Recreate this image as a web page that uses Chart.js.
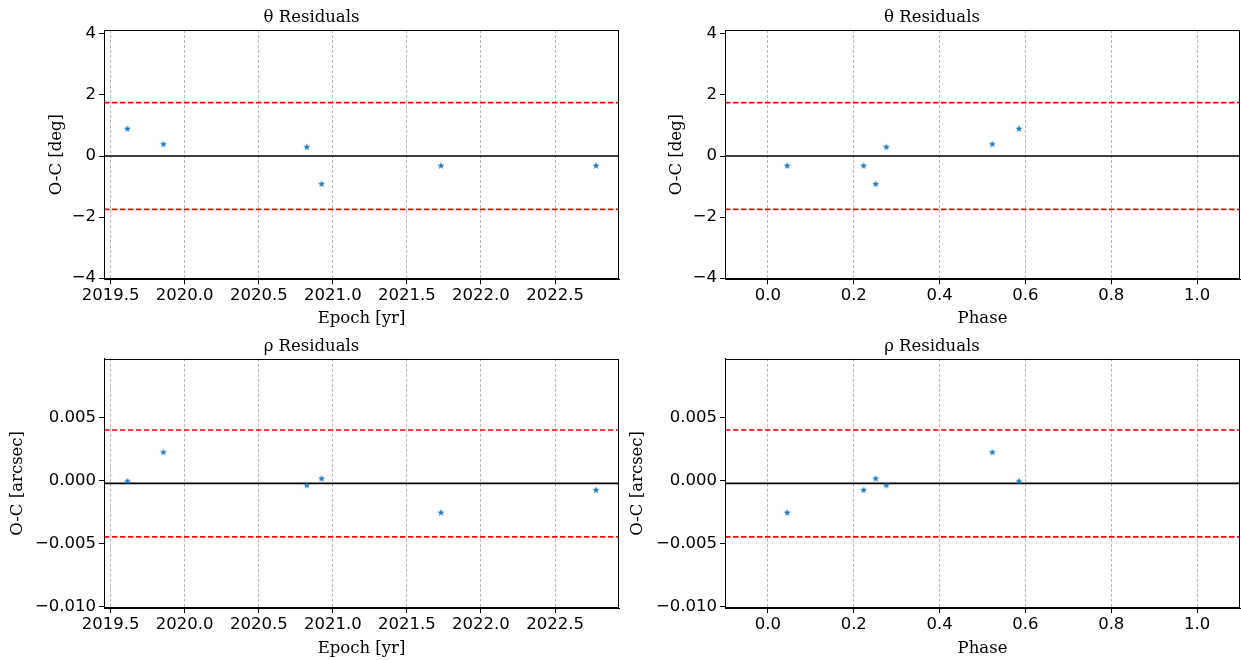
<!DOCTYPE html>
<html>
<head>
<meta charset="utf-8">
<script src="https://cdn.jsdelivr.net/npm/chart.js@4"></script>
<style>
  html, body { margin: 0; background: #fff; overflow: hidden; }
  .panel { position: absolute; }
  .panel canvas { display: block; }
</style>
</head>
<body>
<div class="panel" style="left:0;top:0"><canvas id="thetaEpoch" width="624" height="330"></canvas></div>
<div class="panel" style="left:620px;top:0"><canvas id="thetaPhase" width="625" height="330"></canvas></div>
<div class="panel" style="left:0;top:330px"><canvas id="rhoEpoch" width="624" height="330"></canvas></div>
<div class="panel" style="left:620px;top:330px"><canvas id="rhoPhase" width="625" height="330"></canvas></div>
<script>
// observations: epoch, orbital phase and O-C residuals
const epochs = [2019.613, 2019.856, 2020.824, 2020.924, 2021.730, 2022.777];
const phases = [0.585, 0.523, 0.276, 0.251, 0.045, 0.223];
const thetaResiduals = [0.89, 0.385, 0.29, -0.92, -0.32, -0.32];
const rhoResiduals = [-0.00005, 0.00225, -0.00037, 0.00016, -0.00254, -0.00075];

// mean and 3-sigma band
const thetaMean = 0.0;
const thetaBand = [-1.75, 1.75];
const rhoMean = -0.00021;
const rhoBand = [-0.00446, 0.00402];

// axis limits and ticks
const epochRange = [2019.455, 2022.932];
const phaseRange = [-0.1, 1.1];
const thetaRange = [-4.04, 4.13];
const rhoRange = [-0.0101, 0.00967];
const epochTicks = [2019.5, 2020.0, 2020.5, 2021.0, 2021.5, 2022.0, 2022.5];
const phaseTicks = [0.0, 0.2, 0.4, 0.6, 0.8, 1.0];
const thetaTicks = [-4, -2, 0, 2, 4];
const rhoTicks = [-0.010, -0.005, 0.000, 0.005];

const SANS = "'DejaVu Sans', sans-serif";
const SERIF = "'DejaVu Serif', serif";
const FS = 16.5;
Chart.defaults.font.family = SANS;
Chart.defaults.font.size = FS;
Chart.defaults.color = '#000';

// filled five-point star used as the marker
function starImage(color, r) {
  const size = Math.ceil(r * 2) + 2;
  const c = document.createElement('canvas');
  c.width = c.height = size;
  const g = c.getContext('2d');
  g.translate(size / 2, size / 2);
  g.beginPath();
  for (let i = 0; i < 10; i++) {
    const rad = i % 2 ? r * 0.4 : r;
    const a = -Math.PI / 2 + i * Math.PI / 5;
    g.lineTo(rad * Math.cos(a), rad * Math.sin(a));
  }
  g.closePath();
  g.fillStyle = color;
  g.fill();
  return c;
}
const star = starImage('#1f77b4', 3.8);

function fmt(v, digits) {
  return v.toFixed(digits).replace('-', '\u2212');
}

// box around the plot area
const frame = {
  id: 'frame',
  afterDraw(chart) {
    const { ctx, chartArea: a } = chart;
    const l = Math.round(a.left) + 0.5, t = Math.round(a.top) + 0.5;
    const r = Math.round(a.right) - 0.5, b = Math.round(a.bottom) - 0.5;
    ctx.save();
    ctx.strokeStyle = '#000';
    ctx.lineWidth = 1;
    ctx.strokeRect(l, t, r - l, b - t);
    ctx.restore();
  }
};

function hline(xr, y, color, dash) {
  return {
    data: [{ x: xr[0], y: y }, { x: xr[1], y: y }],
    showLine: true,
    borderColor: color,
    borderWidth: 1.6,
    borderDash: dash,
    pointRadius: 0,
    order: 1
  };
}

function residualPanel(id, cfg) {
  new Chart(document.getElementById(id), {
    type: 'scatter',
    data: {
      datasets: [
        {
          data: cfg.x.map((v, i) => ({ x: v, y: cfg.y[i] })),
          pointStyle: star,
          pointRadius: 4,
          order: 0
        },
        hline(cfg.xRange, cfg.mean, '#000', []),
        hline(cfg.xRange, cfg.band[1], '#ff0000', [5.5, 2.5]),
        hline(cfg.xRange, cfg.band[0], '#ff0000', [5.5, 2.5])
      ]
    },
    options: {
      responsive: false,
      animation: false,
      devicePixelRatio: 1,
      layout: { padding: { left: 0, right: 1, top: 0, bottom: 0 } },
      plugins: {
        legend: { display: false },
        tooltip: { enabled: false },
        title: {
          display: true,
          text: cfg.title,
          color: '#000',
          font: { family: SERIF, size: FS, weight: 'normal' },
          padding: { top: cfg.titleTop, bottom: cfg.titleBottom }
        }
      },
      scales: {
        x: {
          type: 'linear',
          min: cfg.xRange[0],
          max: cfg.xRange[1],
          afterBuildTicks: s => { s.ticks = cfg.xTicks.map(v => ({ value: v })); },
          afterFit: s => { s.height = cfg.xAxisHeight; },
          ticks: {
            callback: v => fmt(v, 1),
            color: '#000',
            font: { family: SANS, size: FS },
            padding: 2,
            maxRotation: 0,
            autoSkip: false
          },
          grid: { color: '#b8b8b8', lineWidth: 1, tickColor: '#000', tickLength: 5, tickWidth: 1 },
          border: { dash: [3, 2], color: '#000', width: 1 },
          title: {
            display: true,
            text: cfg.xLabel,
            color: '#000',
            font: { family: SERIF, size: FS },
            padding: { top: 0, bottom: cfg.xTitleBottom }
          }
        },
        y: {
          type: 'linear',
          min: cfg.yRange[0],
          max: cfg.yRange[1],
          afterBuildTicks: s => { s.ticks = cfg.yTicks.map(v => ({ value: v })); },
          afterFit: s => { s.width = cfg.yAxisWidth; },
          ticks: {
            callback: v => fmt(v, cfg.yDigits),
            color: '#000',
            font: { family: SANS, size: FS },
            padding: 3,
            autoSkip: false
          },
          grid: { drawOnChartArea: false, tickColor: '#000', tickLength: 5, tickWidth: 1 },
          border: { color: '#000', width: 1 },
          title: {
            display: true,
            text: cfg.yLabel,
            color: '#000',
            font: { family: SERIF, size: FS },
            padding: { top: cfg.yTitlePad, bottom: 0 }
          }
        }
      }
    },
    plugins: [frame]
  });
}

const thetaCommon = {
  title: '\u03B8 Residuals', y: thetaResiduals, mean: thetaMean, band: thetaBand,
  yRange: thetaRange, yTicks: thetaTicks, yDigits: 0, yLabel: 'O-C [deg]', yTitlePad: 47,
  titleTop: 8, titleBottom: 2.2, xAxisHeight: 50.7, xTitleBottom: 1.5
};
const rhoCommon = {
  title: '\u03C1 Residuals', y: rhoResiduals, mean: rhoMean, band: rhoBand,
  yRange: rhoRange, yTicks: rhoTicks, yDigits: 3, yLabel: 'O-C [arcsec]', yTitlePad: 8,
  titleTop: 7, titleBottom: 2, xAxisHeight: 52, xTitleBottom: 1
};

residualPanel('thetaEpoch', Object.assign({}, thetaCommon, {
  x: epochs, xRange: epochRange, xTicks: epochTicks, xLabel: 'Epoch [yr]', yAxisWidth: 104
}));
residualPanel('thetaPhase', Object.assign({}, thetaCommon, {
  x: phases, xRange: phaseRange, xTicks: phaseTicks, xLabel: 'Phase', yAxisWidth: 105
}));
residualPanel('rhoEpoch', Object.assign({}, rhoCommon, {
  x: epochs, xRange: epochRange, xTicks: epochTicks, xLabel: 'Epoch [yr]', yAxisWidth: 104
}));
residualPanel('rhoPhase', Object.assign({}, rhoCommon, {
  x: phases, xRange: phaseRange, xTicks: phaseTicks, xLabel: 'Phase', yAxisWidth: 105
}));
</script>
</body>
</html>
